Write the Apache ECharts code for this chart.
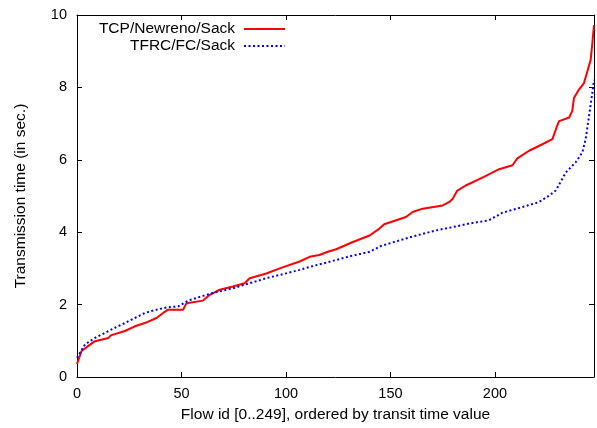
<!DOCTYPE html>
<html>
<head>
<meta charset="utf-8">
<script src="https://cdn.jsdelivr.net/npm/echarts@6/dist/echarts.min.js"></script>
<style>
html,body{margin:0;padding:0;background:#fff;}
#c{width:597px;height:428px;}
</style>
</head>
<body>
<div id="c"></div>
<script>
// Data
const seriesNames = ['TCP/Newreno/Sack', 'TFRC/FC/Sack'];
const redX = [0,2.2,5.4,8.6,15,16.2,22.9,27.7,32.5,38,41.2,43.6,50.8,52.4,60.3,63.5,68.3,74.6,80.2,82.6,90.6,97,106.5,111.3,116,120,124,132,140,144.7,147,157.4,160.6,165.4,175,178,179.7,182,186,194,202,208.4,210.7,216.3,222.7,227.5,229.5,230.7,235.5,237,237.8,240.2,242.6,244.2,245.8,246.6,247.4];
const redY = [0.36,0.72,0.86,0.99,1.08,1.15,1.27,1.40,1.49,1.63,1.77,1.86,1.86,2.04,2.11,2.27,2.41,2.50,2.59,2.73,2.86,3.00,3.19,3.32,3.37,3.46,3.53,3.73,3.91,4.10,4.22,4.42,4.56,4.65,4.74,4.83,4.92,5.15,5.29,5.51,5.74,5.85,6.04,6.25,6.43,6.57,6.90,7.07,7.17,7.35,7.71,7.94,8.12,8.44,8.76,9.22,9.72];
const blueX = [0,3.8,8.6,13.4,18.1,22.9,27.7,32.5,38,42.8,48.4,53.2,60.3,65,74.6,82.6,90.6,98.5,106.5,114.5,120,129.6,140,145.5,155.8,163.8,171.8,179.7,187.7,197.2,203.6,211.6,221,225.9,229.1,233.9,238.6,241.8,243.4,245,246.6,247.4];
const blueY = [0.53,0.90,1.08,1.22,1.36,1.49,1.63,1.77,1.86,1.92,1.95,2.11,2.24,2.32,2.45,2.59,2.73,2.84,2.96,3.09,3.17,3.32,3.46,3.62,3.80,3.93,4.05,4.14,4.24,4.33,4.54,4.67,4.83,5.01,5.15,5.65,5.93,6.20,6.57,7.20,7.85,8.21];
const xTicks = [0, 50, 100, 150, 200];
const yTicks = [0, 2, 4, 6, 8, 10];
const xTitle = 'Flow id [0..249], ordered by transit time value';
const yTitle = 'Transmission time (in sec.)';

const FONT = 'Liberation Sans, Arial, sans-serif';
const XMAX = 247.4;
const pairs = (xs, ys) => xs.map((x, i) => [x, ys[i]]);

const chart = echarts.init(document.getElementById('c'), null, {renderer: 'canvas'});
const axisLine = {show: true, onZero: false, lineStyle: {color: '#000', width: 1}};
const tick = {show: true, inside: true, length: 5, lineStyle: {color: '#000', width: 1}};
const xFmt = v => (xTicks.indexOf(v) >= 0 ? String(v) : '');
const yFmt = v => (yTicks.indexOf(v) >= 0 ? String(v) : '');
const legendCommon = {orient: 'vertical', align: 'right', right: 306,
  itemWidth: 41, itemHeight: 14, itemStyle: {opacity: 0},
  textStyle: {fontFamily: FONT, fontSize: 15.5, color: '#000', padding: [0, 4, 0, 0]}};

chart.setOption({
  animation: false,
  backgroundColor: '#fff',
  grid: {left: 77, right: 2, top: 15, bottom: 48.5, containLabel: false},
  legend: [
    Object.assign({data: [seriesNames[0]], top: 16}, legendCommon),
    Object.assign({data: [seriesNames[1]], top: 33}, legendCommon)
  ],
  xAxis: [
    {type: 'value', position: 'bottom', min: 0, max: XMAX, interval: 50,
     axisLine, axisTick: tick, splitLine: {show: false},
     axisLabel: {formatter: xFmt, fontFamily: FONT, fontSize: 14.5, color: '#000', margin: 9},
     name: xTitle, nameLocation: 'middle', nameGap: 30,
     nameTextStyle: {fontFamily: FONT, fontSize: 15.5, color: '#000'}},
    {type: 'value', position: 'top', min: 0, max: XMAX, interval: 50,
     axisLine, axisTick: tick, splitLine: {show: false}, axisLabel: {show: false}}
  ],
  yAxis: [
    {type: 'value', position: 'left', min: 0, max: 10, interval: 2,
     axisLine, axisTick: tick, splitLine: {show: false},
     axisLabel: {formatter: yFmt, fontFamily: FONT, fontSize: 14.5, color: '#000', margin: 10},
     name: yTitle, nameLocation: 'middle', nameGap: 48, nameRotate: 90,
     nameTextStyle: {fontFamily: FONT, fontSize: 15.5, color: '#000'}},
    {type: 'value', position: 'right', min: 0, max: 10, interval: 2,
     axisLine, axisTick: tick, splitLine: {show: false}, axisLabel: {show: false}}
  ],
  series: [
    {name: seriesNames[0], type: 'line', xAxisIndex: 0, yAxisIndex: 0,
     data: pairs(redX, redY), symbol: 'none', color: '#ff0000',
     lineStyle: {color: '#ff0000', width: 2}},
    {name: seriesNames[1], type: 'line', xAxisIndex: 0, yAxisIndex: 0,
     data: pairs(blueX, blueY), symbol: 'none', color: '#0000ff',
     lineStyle: {color: '#0000ff', width: 2, type: [2, 2.5]}}
  ]
});
</script>
</body>
</html>
